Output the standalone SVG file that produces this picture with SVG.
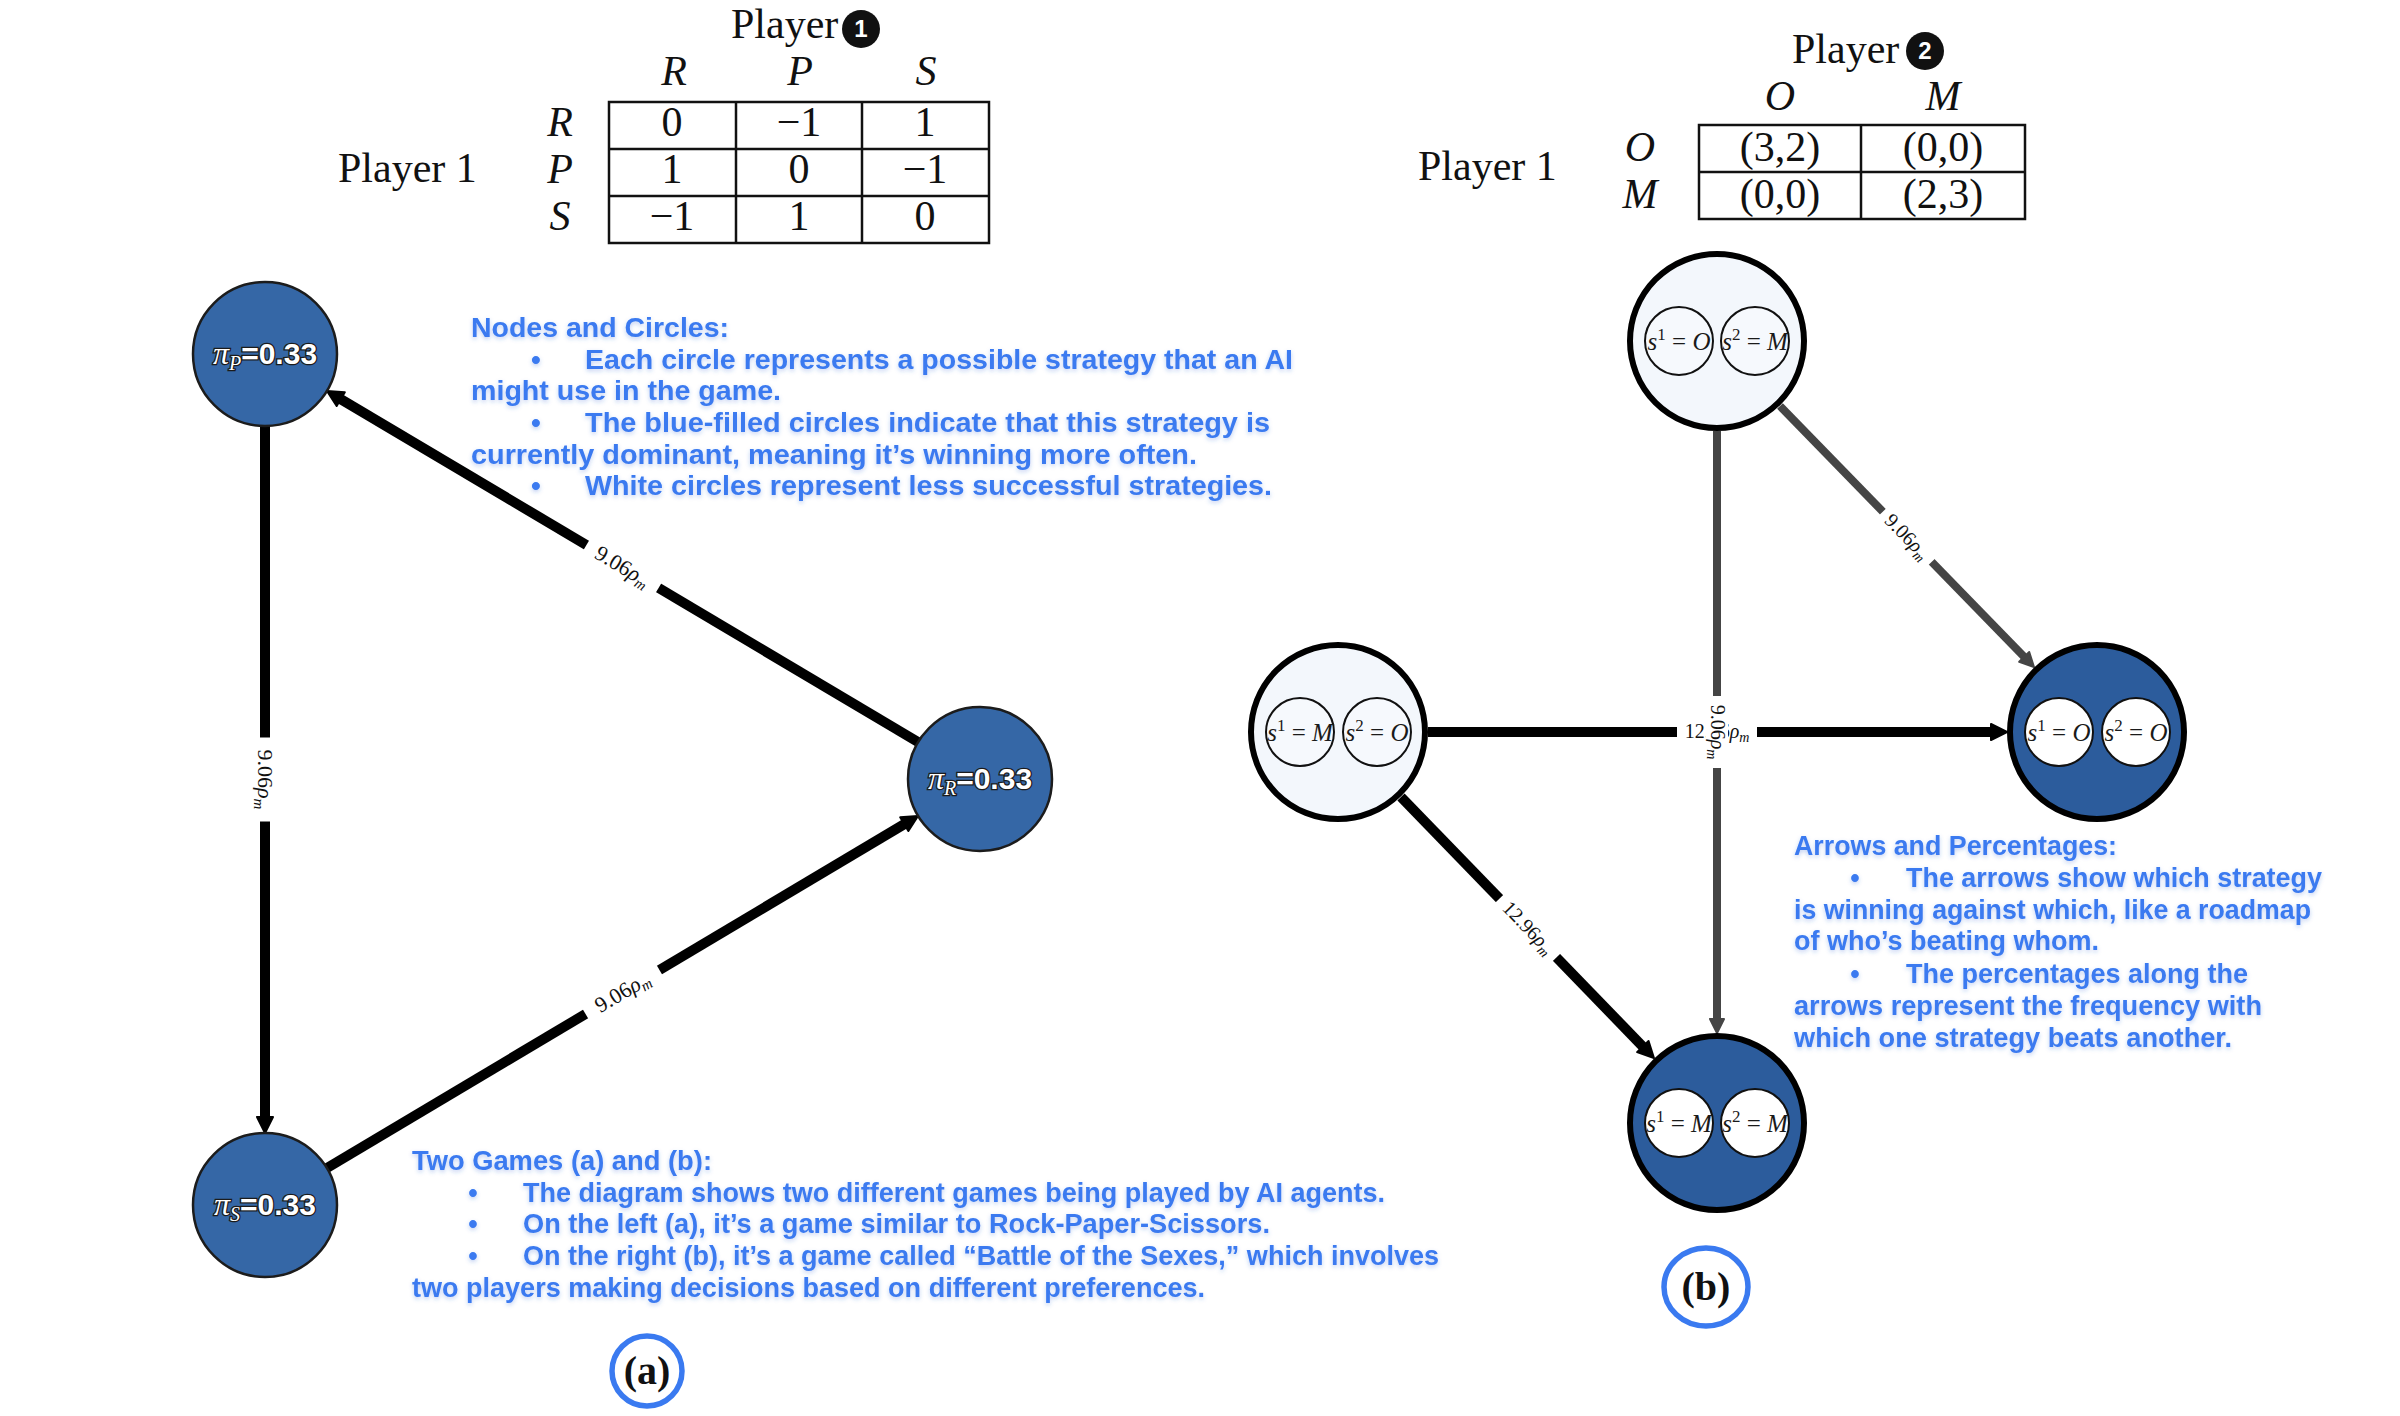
<svg xmlns="http://www.w3.org/2000/svg" width="2400" height="1416" viewBox="0 0 2400 1416">
<defs>
<style>
.tbl{font-family:"Liberation Serif","Times New Roman",serif;font-size:42px;fill:#111}
.it{font-style:italic}
.mid{text-anchor:middle}
.grid{fill:none;stroke:#111;stroke-width:2.5}
.badge{fill:#111}
.badgeTxt{font-family:"Liberation Sans",Arial,sans-serif;font-weight:bold;font-size:24px;fill:#fff;text-anchor:middle}
.note{font-family:"Liberation Sans",Arial,sans-serif;font-weight:bold;font-size:27px;fill:#3a7af0;filter:url(#glow)}
.note1{font-size:28px}
.edgeB{stroke:#000;stroke-width:10;fill:none;marker-end:url(#ahB)}
.edgeG{stroke:#454545;stroke-width:8;fill:none;marker-end:url(#ahG)}
.lblbg{fill:#fff}
.elbl{font-family:"Liberation Serif","Times New Roman",serif;fill:#111;text-anchor:middle}
.elblA{font-size:22px}
.elblB{font-size:20px}
.nodeA{fill:#3567a6;stroke:#1c1c1c;stroke-width:2.5}
.nlbl{font-family:"Liberation Sans",Arial,sans-serif;font-weight:bold;font-size:30px;fill:#fff;stroke:#1b1b1b;stroke-width:2.6;paint-order:stroke;text-anchor:middle}
.pi{font-family:"Liberation Serif","Times New Roman",serif;font-style:italic;font-weight:normal;font-size:32px}
.sub{font-family:"Liberation Serif","Times New Roman",serif;font-style:italic;font-weight:normal;font-size:20px}
.nodeLight{fill:#f3f7fc;stroke:#000;stroke-width:6}
.nodeDark{fill:#2c5c9c;stroke:#000;stroke-width:6}
.inner{fill:#fff;stroke:#111;stroke-width:2}
.innerLight{fill:#f6f9fd;stroke:#111;stroke-width:2}
.slbl{font-family:"Liberation Serif","Times New Roman",serif;font-size:25px;fill:#1a1a1a;text-anchor:middle}
.sup{font-size:17px}
.tag{fill:#fff;stroke:#3a7af0;stroke-width:5.5}
.tagTxt{font-family:"Liberation Serif","Times New Roman",serif;font-weight:bold;font-size:40px;fill:#111;text-anchor:middle}
</style>
<marker id="ahB" markerUnits="userSpaceOnUse" viewBox="-2 -10 22 20" markerWidth="22" markerHeight="20" refX="4" refY="0" orient="auto">
<path d="M0,-8 L16,0 L0,8 Z" fill="#000" stroke="#000" stroke-width="2" stroke-linejoin="round"/>
</marker>
<marker id="ahG" markerUnits="userSpaceOnUse" viewBox="-2 -9 19 18" markerWidth="19" markerHeight="18" refX="4" refY="0" orient="auto">
<path d="M0,-7 L14,0 L0,7 Z" fill="#454545" stroke="#454545" stroke-width="2" stroke-linejoin="round"/>
</marker>
<filter id="glow" x="-3%" y="-30%" width="106%" height="160%">
<feDropShadow dx="0" dy="2" stdDeviation="2" flood-color="#2a5fd0" flood-opacity="0.3"/>
</filter>
</defs>
<rect width="2400" height="1416" fill="#fff"/>

<!-- Table (a) -->
<g id="table-a" class="tbl">
<text x="731" y="38">Player</text>
<circle class="badge" cx="861" cy="29" r="19"/>
<text class="badgeTxt" x="861" y="37">1</text>
<text class="it mid" x="674" y="85">R</text>
<text class="it mid" x="800" y="85">P</text>
<text class="it mid" x="926" y="85">S</text>
<text x="338" y="182">Player 1</text>
<text class="it mid" x="560" y="136">R</text>
<text class="it mid" x="560" y="183">P</text>
<text class="it mid" x="560" y="230">S</text>
<rect class="grid" x="609" y="102" width="380" height="141"/>
<line class="grid" x1="736" y1="102" x2="736" y2="243"/>
<line class="grid" x1="862" y1="102" x2="862" y2="243"/>
<line class="grid" x1="609" y1="149" x2="989" y2="149"/>
<line class="grid" x1="609" y1="196" x2="989" y2="196"/>
<text class="mid" x="672" y="136">0</text>
<text class="mid" x="799" y="136">−1</text>
<text class="mid" x="925" y="136">1</text>
<text class="mid" x="672" y="183">1</text>
<text class="mid" x="799" y="183">0</text>
<text class="mid" x="925" y="183">−1</text>
<text class="mid" x="672" y="230">−1</text>
<text class="mid" x="799" y="230">1</text>
<text class="mid" x="925" y="230">0</text>
</g>

<!-- Table (b) -->
<g id="table-b" class="tbl">
<text x="1792" y="63">Player</text>
<circle class="badge" cx="1925" cy="51" r="19"/>
<text class="badgeTxt" x="1925" y="59">2</text>
<text class="it mid" x="1780" y="110">O</text>
<text class="it mid" x="1943" y="110">M</text>
<text x="1418" y="180">Player 1</text>
<text class="it mid" x="1640" y="161">O</text>
<text class="it mid" x="1640" y="208">M</text>
<rect class="grid" x="1699" y="125" width="326" height="94"/>
<line class="grid" x1="1861" y1="125" x2="1861" y2="219"/>
<line class="grid" x1="1699" y1="172" x2="2025" y2="172"/>
<text class="mid" x="1780" y="161">(3,2)</text>
<text class="mid" x="1943" y="161">(0,0)</text>
<text class="mid" x="1780" y="208">(0,0)</text>
<text class="mid" x="1943" y="208">(2,3)</text>
</g>

<!-- Connectors -->
<g id="connectors">
<line class="edgeB" x1="918" y1="742" x2="337.3" y2="397.1"/>
<line class="edgeB" x1="265" y1="426" x2="265" y2="1121"/>
<line class="edgeB" x1="327" y1="1168" x2="907.7" y2="822.1"/>
<line class="edgeG" x1="1780" y1="406" x2="2027" y2="659.8"/>
<line class="edgeG" x1="1717" y1="431" x2="1717" y2="1023"/>
<line class="edgeB" x1="1428" y1="732" x2="1995" y2="732"/>
<line class="edgeB" x1="1401" y1="797" x2="1645.6" y2="1049.4"/>

<g transform="translate(622.5,566.5) rotate(30.7)">
<rect class="lblbg" x="-42" y="-13" width="84" height="26"/>
<text class="elbl elblA" y="7">9.06<tspan class="it">ρ</tspan><tspan font-size="15" dy="4" class="it">m</tspan></text>
</g>
<g transform="translate(265,779.5) rotate(90)">
<rect class="lblbg" x="-42" y="-13" width="84" height="26"/>
<text class="elbl elblA" y="7">9.06<tspan class="it">ρ</tspan><tspan font-size="15" dy="4" class="it">m</tspan></text>
</g>
<g transform="translate(622.5,992) rotate(-30.7)">
<rect class="lblbg" x="-43" y="-13" width="86" height="26"/>
<text class="elbl elblA" y="7">9.06<tspan class="it">ρ</tspan><tspan font-size="15" dy="4" class="it">m</tspan></text>
</g>
<g transform="translate(1907,537) rotate(45.8)">
<rect class="lblbg" x="-35" y="-11" width="70" height="22"/>
<text class="elbl elblB" y="6">9.06<tspan class="it">ρ</tspan><tspan font-size="14" dy="4" class="it">m</tspan></text>
</g>
<g transform="translate(1528,928) rotate(45.9)">
<rect class="lblbg" x="-41" y="-11" width="82" height="22"/>
<text class="elbl elblB" y="6">12.96<tspan class="it">ρ</tspan><tspan font-size="14" dy="4" class="it">m</tspan></text>
</g>
<g transform="translate(1717,732)">
<rect class="lblbg" x="-40" y="-11" width="80" height="22"/>
<text class="elbl elblB" y="6">12.96<tspan class="it">ρ</tspan><tspan font-size="14" dy="4" class="it">m</tspan></text>
</g>
<g transform="translate(1717,732) rotate(90)">
<rect class="lblbg" x="-36" y="-11" width="72" height="22"/>
<text class="elbl elblB" y="6">9.06<tspan class="it">ρ</tspan><tspan font-size="14" dy="4" class="it">m</tspan></text>
</g>
</g>

<!-- Nodes game (a) -->
<g id="node-P">
<circle class="nodeA" cx="265" cy="354" r="72"/>
<text class="nlbl" x="265" y="364"><tspan class="pi">π</tspan><tspan class="sub" dy="6">P</tspan><tspan dy="-6">=0.33</tspan></text>
</g>
<g id="node-R">
<circle class="nodeA" cx="980" cy="779" r="72"/>
<text class="nlbl" x="980" y="789"><tspan class="pi">π</tspan><tspan class="sub" dy="6">R</tspan><tspan dy="-6">=0.33</tspan></text>
</g>
<g id="node-S">
<circle class="nodeA" cx="265" cy="1205" r="72"/>
<text class="nlbl" x="265" y="1215"><tspan class="pi">π</tspan><tspan class="sub" dy="6">S</tspan><tspan dy="-6">=0.33</tspan></text>
</g>

<!-- Nodes game (b) -->
<g id="node-OM">
<circle class="nodeLight" cx="1717" cy="341" r="87"/>
<circle class="innerLight" cx="1679" cy="341" r="34"/>
<circle class="innerLight" cx="1755" cy="341" r="34"/>
<text class="slbl" x="1679" y="350"><tspan class="it">s</tspan><tspan class="sup" dy="-10">1</tspan><tspan dy="10"> = </tspan><tspan class="it">O</tspan></text>
<text class="slbl" x="1755" y="350"><tspan class="it">s</tspan><tspan class="sup" dy="-10">2</tspan><tspan dy="10"> = </tspan><tspan class="it">M</tspan></text>
</g>
<g id="node-MO">
<circle class="nodeLight" cx="1338" cy="732" r="87"/>
<circle class="innerLight" cx="1300" cy="732" r="34"/>
<circle class="innerLight" cx="1377" cy="732" r="34"/>
<text class="slbl" x="1300" y="741"><tspan class="it">s</tspan><tspan class="sup" dy="-10">1</tspan><tspan dy="10"> = </tspan><tspan class="it">M</tspan></text>
<text class="slbl" x="1377" y="741"><tspan class="it">s</tspan><tspan class="sup" dy="-10">2</tspan><tspan dy="10"> = </tspan><tspan class="it">O</tspan></text>
</g>
<g id="node-OO">
<circle class="nodeDark" cx="2097" cy="732" r="87"/>
<circle class="inner" cx="2059" cy="732" r="34"/>
<circle class="inner" cx="2136" cy="732" r="34"/>
<text class="slbl" x="2059" y="741"><tspan class="it">s</tspan><tspan class="sup" dy="-10">1</tspan><tspan dy="10"> = </tspan><tspan class="it">O</tspan></text>
<text class="slbl" x="2136" y="741"><tspan class="it">s</tspan><tspan class="sup" dy="-10">2</tspan><tspan dy="10"> = </tspan><tspan class="it">O</tspan></text>
</g>
<g id="node-MM">
<circle class="nodeDark" cx="1717" cy="1123" r="87"/>
<circle class="inner" cx="1679" cy="1123" r="34"/>
<circle class="inner" cx="1755" cy="1123" r="34"/>
<text class="slbl" x="1679" y="1132"><tspan class="it">s</tspan><tspan class="sup" dy="-10">1</tspan><tspan dy="10"> = </tspan><tspan class="it">M</tspan></text>
<text class="slbl" x="1755" y="1132"><tspan class="it">s</tspan><tspan class="sup" dy="-10">2</tspan><tspan dy="10"> = </tspan><tspan class="it">M</tspan></text>
</g>

<!-- Notes -->
<g id="note-nodes" class="note note1">
<text x="471" y="337" textLength="258" lengthAdjust="spacingAndGlyphs">Nodes and Circles:</text>
<text class="mid" x="536" y="369">•</text>
<text x="585" y="369" textLength="708" lengthAdjust="spacingAndGlyphs">Each circle represents a possible strategy that an AI</text>
<text x="471" y="400" textLength="310" lengthAdjust="spacingAndGlyphs">might use in the game.</text>
<text class="mid" x="536" y="432">•</text>
<text x="585" y="432" textLength="685" lengthAdjust="spacingAndGlyphs">The blue-filled circles indicate that this strategy is</text>
<text x="471" y="464" textLength="726" lengthAdjust="spacingAndGlyphs">currently dominant, meaning it’s winning more often.</text>
<text class="mid" x="536" y="495">•</text>
<text x="585" y="495" textLength="687" lengthAdjust="spacingAndGlyphs">White circles represent less successful strategies.</text>
</g>

<g id="note-games" class="note">
<text x="412" y="1170" textLength="300" lengthAdjust="spacingAndGlyphs">Two Games (a) and (b):</text>
<text class="mid" x="473" y="1202">•</text>
<text x="523" y="1202" textLength="862" lengthAdjust="spacingAndGlyphs">The diagram shows two different games being played by AI agents.</text>
<text class="mid" x="473" y="1233">•</text>
<text x="523" y="1233" textLength="747" lengthAdjust="spacingAndGlyphs">On the left (a), it’s a game similar to Rock-Paper-Scissors.</text>
<text class="mid" x="473" y="1265">•</text>
<text x="523" y="1265" textLength="916" lengthAdjust="spacingAndGlyphs">On the right (b), it’s a game called “Battle of the Sexes,” which involves</text>
<text x="412" y="1297" textLength="793" lengthAdjust="spacingAndGlyphs">two players making decisions based on different preferences.</text>
</g>

<g id="note-arrows" class="note">
<text x="1794" y="855" textLength="323" lengthAdjust="spacingAndGlyphs">Arrows and Percentages:</text>
<text class="mid" x="1855" y="887">•</text>
<text x="1906" y="887" textLength="416" lengthAdjust="spacingAndGlyphs">The arrows show which strategy</text>
<text x="1794" y="919" textLength="517" lengthAdjust="spacingAndGlyphs">is winning against which, like a roadmap</text>
<text x="1794" y="950" textLength="305" lengthAdjust="spacingAndGlyphs">of who’s beating whom.</text>
<text class="mid" x="1855" y="983">•</text>
<text x="1906" y="983" textLength="342" lengthAdjust="spacingAndGlyphs">The percentages along the</text>
<text x="1794" y="1015" textLength="468" lengthAdjust="spacingAndGlyphs">arrows represent the frequency with</text>
<text x="1794" y="1047" textLength="438" lengthAdjust="spacingAndGlyphs">which one strategy beats another.</text>
</g>

<!-- Panel tags -->
<g id="tag-a">
<circle class="tag" cx="647" cy="1371" r="35"/>
<text class="tagTxt" x="647" y="1384">(a)</text>
</g>
<g id="tag-b">
<ellipse class="tag" cx="1706" cy="1287" rx="42" ry="39"/>
<text class="tagTxt" x="1706" y="1300">(b)</text>
</g>
</svg>
